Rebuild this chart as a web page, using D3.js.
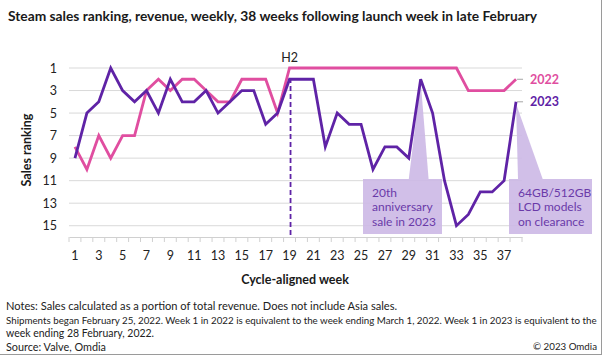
<!DOCTYPE html>
<html><head><meta charset="utf-8">
<script src="https://cdn.jsdelivr.net/npm/d3@7"></script>
<style>body{margin:0;background:#fff}svg{display:block;font-family:Lato,"Open Sans",sans-serif}</style>
</head><body>
<svg id="c" width="602" height="355"></svg>
<script>
const weeks = d3.range(1, 39);
const xTickLabels = d3.range(1, 38, 2);
const yTickLabels = [1, 3, 5, 7, 9, 11, 13, 15];
const series2022 = [8,10,7,9,7,7,3,2,3,2,2,3,4,4,2,2,2,5,1,1,1,1,1,1,1,1,1,1,1,1,1,1,1,3,3,3,3,2];
const series2023 = [9,5,4,1,3,4,3,5,2,4,4,3,5,4,3,3,6,5,2,2,2,8,5,6,6,10,8,8,9,2,5,11,15,14,12,12,11,4];
const seriesNames = ["2022", "2023"];
const h2Week = 19;
const annotations = [
  {week: 30, rank: 2, lines: ["20th", "anniversary", "sale in 2023"]},
  {week: 38, rank: 4, lines: ["64GB/512GB", "LCD models", "on clearance"]}
];
const titleText = "Steam sales ranking, revenue, weekly, 38 weeks following launch week in late February";
const notes = [
  "Notes: Sales calculated as a portion of total revenue. Does not include Asia sales.",
  "Shipments began February 25, 2022. Week 1 in 2022 is equivalent to the week ending March 1, 2022. Week 1 in 2023 is equivalent to the",
  "week ending 28 February, 2022."
];
const sourceText = "Source: Valve, Omdia";
const copyText = "© 2023 Omdia";

const pink = "#e04ea0", purple = "#5f23a6", boxFill = "#cdb9e6", textPurple = "#6a3aa8";
const svg = d3.select("#c");

const x = d3.scaleBand().domain(weeks).range([69, 522]);
const xc = w => x(w) + x.bandwidth() / 2;
const y = d3.scaleLinear().domain([1, 16]).range([68, 237]);

// fit a text to a target width by adjusting its font size
function fitWidth(sel, target) {
  const w = sel.node().getComputedTextLength();
  const fs = parseFloat(sel.attr("font-size"));
  sel.attr("font-size", (fs * target / w).toFixed(2));
}

// title
const title = svg.append("text").attr("x", 8).attr("y", 21).attr("font-weight", 700).attr("font-size", 13.4)
  .attr("fill", "#1a1a1a").text(titleText);
fitWidth(title, 529);

// gridlines
svg.append("g").selectAll("line").data(yTickLabels).join("line")
  .attr("x1", 69).attr("x2", 522).attr("y1", d => y(d)).attr("y2", d => y(d))
  .attr("stroke", "#d9d9d9").attr("stroke-width", 1);

// y axis labels
const yAxis = d3.axisLeft(y).tickValues(yTickLabels).tickSize(0).tickPadding(0);
const gy = svg.append("g").attr("transform", "translate(57,0)").call(yAxis);
gy.select(".domain").remove();
gy.selectAll("text").attr("font-size", 12.5).attr("fill", "#222").attr("font-family", "Lato,'Open Sans',sans-serif");

// x axis
const xAxis = d3.axisBottom(x).tickValues(xTickLabels).tickSize(0).tickPadding(14);
const gx = svg.append("g").attr("transform", "translate(0,237)").call(xAxis);
gx.select(".domain").attr("stroke", "#d0d0d0");
gx.selectAll("text").attr("font-size", 12.5).attr("fill", "#222").attr("font-family", "Lato,'Open Sans',sans-serif");
// between-category tick marks
svg.append("g").selectAll("line").data(weeks.concat([39])).join("line")
  .attr("x1", d => d === 39 ? 522 : x(d)).attr("x2", d => d === 39 ? 522 : x(d))
  .attr("y1", 237).attr("y2", 242).attr("stroke", "#d0d0d0");

// axis titles
svg.append("text").attr("x", 295).attr("y", 284).attr("text-anchor", "middle")
  .attr("font-weight", 700).attr("font-size", 12.5).attr("fill", "#1a1a1a").text("Cycle-aligned week");
svg.append("text").attr("transform", "translate(31,150) rotate(-90)").attr("text-anchor", "middle")
  .attr("font-weight", 700).attr("font-size", 12.5).attr("fill", "#1a1a1a").text("Sales ranking");

// annotation boxes and callouts
annotations.forEach((a, i) => {
  const g = svg.append("g").attr("opacity", 0.9);
  const px = xc(a.week), py = y(a.rank) + 2;
  let bx, bw, tri;
  if (i === 0) {
    bx = 363; bw = 79;
    tri = [[px, py], [px - 12, 180], [px + 8, 180]];
  } else {
    bx = 509; bw = 83;
    tri = [[px, py], [px + 2, 180], [px + 27, 180]];
  }
  g.append("path").attr("d", d3.line()(tri) + "Z").attr("fill", boxFill);
  g.append("rect").attr("x", bx).attr("y", 179).attr("width", bw).attr("height", 55).attr("fill", boxFill);
  const t = svg.append("text").attr("font-size", 12).attr("fill", textPurple);
  a.lines.forEach((ln, j) => t.append("tspan").attr("x", bx + 9).attr("y", 197 + j * 14.3).text(ln));
});

// H2 dashed line
svg.append("line").attr("x1", xc(h2Week) + 1).attr("x2", xc(h2Week) + 1).attr("y1", y(1) + 10).attr("y2", 237)
  .attr("stroke", purple).attr("stroke-width", 1.8).attr("stroke-dasharray", "5,3");
svg.append("text").attr("x", xc(h2Week)).attr("y", 62).attr("text-anchor", "middle")
  .attr("font-size", 12.5).attr("fill", "#222").text("H2");

// lines
const line = d3.line().x((d, i) => xc(weeks[i])).y(d => y(d));
svg.append("path").datum(series2022).attr("d", line).attr("fill", "none")
  .attr("stroke", pink).attr("stroke-width", 2.8).attr("stroke-linejoin", "miter");
svg.append("path").datum(series2023).attr("d", line).attr("fill", "none")
  .attr("stroke", purple).attr("stroke-width", 2.8).attr("stroke-linejoin", "miter");

// series labels
const last = weeks.length - 1;
[[series2022, pink, seriesNames[0]], [series2023, purple, seriesNames[1]]].forEach(([s, c, n]) => {
  const ly = y(s[last]);
  svg.append("line").attr("x1", xc(weeks[last]) + 1).attr("x2", xc(weeks[last]) + 7)
    .attr("y1", ly).attr("y2", ly).attr("stroke", "#a6a6a6").attr("stroke-width", 1);
  svg.append("text").attr("x", 530).attr("y", ly + 4.5).attr("font-size", 12.5).attr("font-weight", 700)
    .attr("fill", c).text(n);
});

// notes
const noteWidths = [391, 590, 148];
notes.forEach((n, i) => {
  const t = svg.append("text").attr("x", 6).attr("y", [310, 324, 337][i]).attr("font-size", 10.6)
    .attr("fill", "#222").text(n);
  fitWidth(t, noteWidths[i]);
});
const src = svg.append("text").attr("x", 6).attr("y", 351).attr("font-size", 10.6).attr("fill", "#222").text(sourceText);
fitWidth(src, 100);
const cp = svg.append("text").attr("x", 597).attr("y", 350).attr("text-anchor", "end").attr("font-size", 10.6).attr("fill", "#222").text(copyText);
fitWidth(cp, 64);

// frame edges
svg.append("line").attr("x1", 601.5).attr("x2", 601.5).attr("y1", 0).attr("y2", 355).attr("stroke", "#9a9a9a");
svg.append("line").attr("x1", 0).attr("x2", 602).attr("y1", 354.5).attr("y2", 354.5).attr("stroke", "#9a9a9a");
</script>
</body></html>
